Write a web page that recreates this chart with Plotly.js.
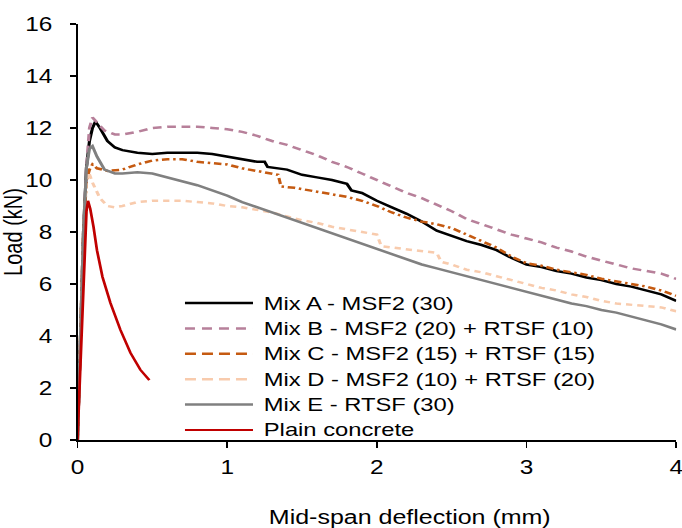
<!DOCTYPE html>
<html>
<head>
<meta charset="utf-8">
<script src="https://cdn.plot.ly/plotly-3.0.1.min.js"></script>
<style>
html,body{margin:0;padding:0;background:#fff;overflow:hidden;}
#wrap{width:682px;height:528px;overflow:hidden;}
#chart{width:546px;height:528px;transform:scale(1.25,1);transform-origin:0 0;}
</style>
</head>
<body>
<div id="wrap"><div id="chart"></div></div>
<script>
// Mid-span deflection (mm) and load (kN) for each mix
const mixA_x = [0,0.02,0.04,0.06,0.08,0.1,0.12,0.15,0.2,0.25,0.3,0.4,0.5,0.6,0.7,0.8,0.9,1.0,1.1,1.2,1.25,1.27,1.4,1.5,1.6,1.7,1.8,1.83,1.9,2.0,2.1,2.2,2.3,2.4,2.5,2.6,2.7,2.8,2.9,3.0,3.1,3.2,3.3,3.4,3.5,3.6,3.7,3.8,3.9,4.0];
const mixA_y = [0,4,8,10.5,11.5,12.0,12.25,12.0,11.5,11.25,11.15,11.05,11.0,11.05,11.05,11.05,11.0,10.9,10.8,10.7,10.7,10.5,10.4,10.2,10.1,10.0,9.85,9.6,9.5,9.2,8.95,8.7,8.4,8.05,7.85,7.65,7.5,7.3,7.0,6.75,6.65,6.5,6.4,6.25,6.15,6.0,5.9,5.75,5.6,5.35];

const mixB_x = [0,0.02,0.04,0.06,0.08,0.1,0.13,0.18,0.25,0.3,0.4,0.5,0.6,0.7,0.8,0.9,1.0,1.1,1.2,1.3,1.4,1.5,1.6,1.7,1.8,1.9,2.0,2.1,2.2,2.3,2.4,2.5,2.6,2.7,2.8,2.9,3.0,3.1,3.2,3.3,3.4,3.5,3.6,3.7,3.8,3.9,4.0];
const mixB_y = [0,4,8,10.5,12.0,12.4,12.2,11.9,11.75,11.75,11.85,12.0,12.05,12.05,12.05,12.0,11.95,11.85,11.7,11.5,11.35,11.15,10.95,10.7,10.5,10.25,10.0,9.75,9.5,9.3,9.05,8.8,8.5,8.3,8.1,7.9,7.75,7.6,7.4,7.25,7.05,6.9,6.75,6.6,6.5,6.4,6.2];

const mixC_x = [0,0.02,0.04,0.06,0.08,0.1,0.13,0.2,0.3,0.4,0.5,0.6,0.7,0.8,0.9,1.0,1.1,1.2,1.34,1.36,1.45,1.55,1.7,1.8,1.9,2.0,2.1,2.2,2.3,2.4,2.5,2.6,2.7,2.8,2.9,3.0,3.1,3.2,3.3,3.4,3.5,3.6,3.7,3.8,3.9,4.0];
const mixC_y = [0,4,8,10.0,10.4,10.6,10.45,10.35,10.4,10.6,10.75,10.8,10.8,10.7,10.65,10.6,10.45,10.35,10.2,9.75,9.7,9.6,9.45,9.35,9.2,9.0,8.75,8.55,8.4,8.3,8.15,7.9,7.65,7.4,7.05,6.8,6.7,6.55,6.45,6.35,6.2,6.1,6.0,5.9,5.75,5.55];

const mixD_x = [0,0.02,0.04,0.06,0.075,0.1,0.15,0.2,0.25,0.3,0.4,0.5,0.6,0.7,0.8,0.9,1.0,1.1,1.2,1.3,1.4,1.5,1.6,1.7,1.8,1.9,2.0,2.03,2.1,2.2,2.3,2.4,2.43,2.5,2.6,2.7,2.8,2.9,3.0,3.1,3.2,3.3,3.4,3.5,3.6,3.7,3.8,3.9,4.0];
const mixD_y = [0,4,8,10.0,10.3,9.9,9.3,9.0,8.95,9.0,9.15,9.2,9.2,9.2,9.15,9.1,9.0,8.95,8.85,8.75,8.6,8.45,8.35,8.2,8.1,8.0,7.9,7.45,7.4,7.35,7.25,7.2,6.85,6.75,6.55,6.45,6.3,6.15,6.0,5.85,5.75,5.6,5.5,5.35,5.25,5.2,5.15,5.1,4.95];

const mixE_x = [0,0.02,0.04,0.06,0.08,0.1,0.13,0.18,0.25,0.3,0.4,0.5,0.6,0.7,0.8,0.9,1.0,1.1,1.2,1.3,1.4,1.5,1.6,1.7,1.8,1.9,2.0,2.1,2.2,2.3,2.4,2.5,2.6,2.7,2.8,2.9,3.0,3.1,3.2,3.3,3.4,3.5,3.6,3.7,3.8,3.9,4.0];
const mixE_y = [0,4,8,10.5,11.2,11.3,10.9,10.4,10.25,10.25,10.3,10.25,10.1,9.95,9.8,9.6,9.4,9.15,8.95,8.75,8.55,8.35,8.15,7.95,7.75,7.55,7.35,7.15,6.95,6.75,6.6,6.45,6.3,6.15,6.0,5.85,5.7,5.55,5.4,5.25,5.15,5.0,4.9,4.75,4.6,4.45,4.25];

const plain_x = [0,0.02,0.04,0.06,0.07,0.085,0.107,0.13,0.167,0.22,0.287,0.354,0.42,0.48];
const plain_y = [0,3,6.2,8.8,9.2,8.9,8.2,7.3,6.27,5.27,4.23,3.35,2.7,2.3];

const seriesNames = [
  'Mix A - MSF2 (30)',
  'Mix B - MSF2 (20) + RTSF (10)',
  'Mix C - MSF2 (15) + RTSF (15)',
  'Mix D - MSF2 (10) + RTSF (20)',
  'Mix E - RTSF (30)',
  'Plain concrete'
];
const seriesColors = ['#000000', '#b7809a', '#c55a11', '#f8cbad', '#808080', '#c00000'];
const xTicks = [0,1,2,3,4];
const yTicks = [0,2,4,6,8,10,12,14,16];
const xTitle = 'Mid-span deflection (mm)';
const yTitle = 'Load (kN)';

const FONT = 'Liberation Sans, Arial, sans-serif';

const traceDash = ['solid', '7px,4.5px', '6px,3px,2px,3px', '5px,4px', 'solid', 'solid'];
const legendDash = ['solid', '8px,5.6px', '8.8px,4.8px', '8.8px,4.8px', 'solid', 'solid'];
const widths = [2.5, 2.5, 2.5, 2.5, 2.5, 2.2];
const xs = [mixA_x, mixB_x, mixC_x, mixD_x, mixE_x, plain_x];
const ys = [mixA_y, mixB_y, mixC_y, mixD_y, mixE_y, plain_y];

const traces = xs.map((x, i) => ({
  type: 'scatter', mode: 'lines', x: x, y: ys[i], name: seriesNames[i],
  line: {color: seriesColors[i], width: widths[i], dash: traceDash[i]},
  showlegend: false
}));

// legend (drawn as a key box inside the plot area)
const legX0 = 0.1795, legX1 = 0.2931, legTextX = 0.3065;
const legTop = 0.3293, legStep = 0.06105;
const shapes = [], annotations = [];
seriesNames.forEach((name, i) => {
  const yy = legTop - i * legStep;
  shapes.push({type: 'line', xref: 'paper', yref: 'paper', x0: legX0, x1: legX1, y0: yy, y1: yy,
    line: {color: seriesColors[i], width: widths[i], dash: legendDash[i]}, layer: 'above'});
  annotations.push({xref: 'paper', yref: 'paper', x: legTextX, y: yy, xanchor: 'left', yanchor: 'middle',
    text: name, showarrow: false, font: {family: FONT, size: 19, color: '#000000'}});
});
// x-axis title, placed as in the source figure (slightly right of centre)
annotations.push({xref: 'paper', yref: 'paper', x: 0.555, y: -0.185, xanchor: 'center', yanchor: 'middle',
  text: xTitle, showarrow: false, font: {family: FONT, size: 20, color: '#000000'}});

const layout = {
  width: 546, height: 528,
  margin: {l: 62, r: 5, t: 24, b: 88},
  paper_bgcolor: '#ffffff', plot_bgcolor: '#ffffff',
  font: {family: FONT, size: 19, color: '#000000'},
  showlegend: false,
  shapes: shapes,
  annotations: annotations,
  xaxis: {
    range: [0, 4], tickvals: xTicks, ticktext: xTicks.map(String),
    showgrid: false, zeroline: false, showline: true, linecolor: '#000000', linewidth: 1.5,
    ticks: 'outside', ticklen: 6, tickwidth: 1.3, tickcolor: '#000000',
    ticklabelstandoff: 3, ticklabeloverflow: 'allow',
    tickfont: {family: FONT, size: 19.5}
  },
  yaxis: {
    range: [0, 16], tickvals: yTicks, ticktext: yTicks.map(String),
    showgrid: false, zeroline: false, showline: true, linecolor: '#000000', linewidth: 1.3,
    ticks: 'outside', ticklen: 5, tickwidth: 1.5, tickcolor: '#000000',
    ticklabelstandoff: 10, ticklabeloverflow: 'allow',
    tickfont: {family: FONT, size: 19.5},
    title: {text: yTitle, font: {family: FONT, size: 20}, standoff: 0}
  }
};

Plotly.newPlot('chart', traces, layout, {displayModeBar: false, staticPlot: true});
</script>
</body>
</html>
